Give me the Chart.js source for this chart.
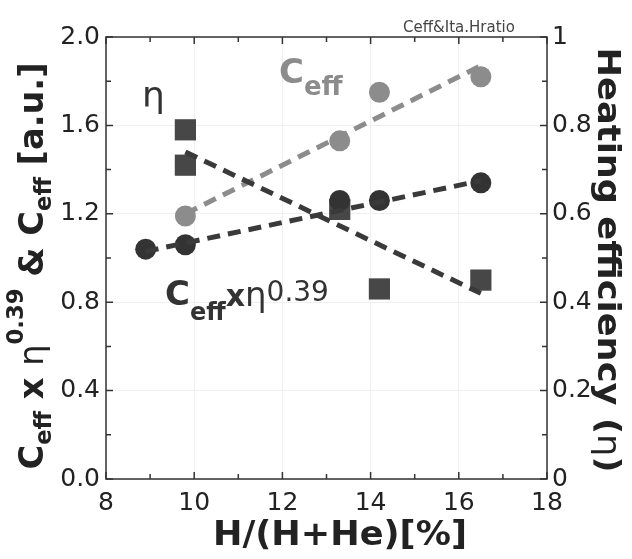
<!DOCTYPE html>
<html>
<head>
<meta charset="utf-8">
<script src="https://cdn.jsdelivr.net/npm/chart.js@4.4.1/dist/chart.umd.min.js"></script>
<style>
  html, body { margin: 0; padding: 0; background: #fff; }
  #box { width: 632px; height: 559px; }
</style>
</head>
<body>
<div id="box"><canvas id="stat1" width="632" height="559"></canvas></div>
<script>
const hRatio = [9.8, 13.3, 14.2, 16.5];
const cEff = [1.19, 1.53, 1.75, 1.82];
const hRatioProd = [8.9, 9.8, 13.3, 14.2, 16.5];
const cEffEta = [1.04, 1.06, 1.26, 1.26, 1.34];
const hRatioEta = [9.8, 9.8, 13.3, 14.2, 16.5];
const eta = [0.79, 0.71, 0.61, 0.43, 0.45];

// dashed fit lines, end points only
const fitX = [9.8, 16.5];
const cEffFit = [1.20, 1.87];
const etaFit = [0.74, 0.42];
const prodFitX = [8.9, 16.5];
const cEffEtaFit = [1.03, 1.35];

const DARK = '#3a3a3a';
const GRAY = '#8c8c8c';
const FONT = "'DejaVu Sans'";

function pts(xs, ys) {
    return xs.map(function (x, i) { return {x: x, y: ys[i]}; });
}

function partsWidth(ctx, parts) {
    let w = 0;
    parts.forEach(function (p) {
        ctx.font = p.font;
        w += ctx.measureText(p.t).width;
    });
    return w;
}

// draws a run of text pieces (for sub/superscripts); centred when length is given
function drawParts(ctx, parts, x0, y0, angle, length) {
    ctx.save();
    ctx.translate(x0, y0);
    ctx.rotate(angle || 0);
    let w = partsWidth(ctx, parts);
    let x = 0;
    if (length) {
        ctx.scale(length / w, 1);
        x = -w / 2;
    }
    ctx.textAlign = 'left';
    ctx.textBaseline = 'alphabetic';
    parts.forEach(function (p) {
        ctx.font = p.font;
        ctx.fillStyle = p.color || '#222';
        ctx.fillText(p.t, x, p.dy || 0);
        x += ctx.measureText(p.t).width;
    });
    ctx.restore();
}

const framePlugin = {
    id: 'frame',
    afterDraw: function (chart) {
        let ctx = chart.ctx;
        let a = chart.chartArea;
        let sx = chart.scales.x, sy = chart.scales.y, sy2 = chart.scales.y2;
        ctx.save();
        ctx.strokeStyle = '#333';
        ctx.lineWidth = 1.5;
        ctx.strokeRect(a.left, a.top, a.right - a.left, a.bottom - a.top);
        ctx.beginPath();
        // inward tick marks on all four sides
        for (let v = 8; v <= 18; v += 1) {
            let px = sx.getPixelForValue(v);
            let len = (v % 2 === 0) ? 7 : 5;
            ctx.moveTo(px, a.bottom); ctx.lineTo(px, a.bottom - len);
            ctx.moveTo(px, a.top); ctx.lineTo(px, a.top + len);
        }
        for (let i = 0; i <= 10; i++) {
            let py = sy.getPixelForValue(i * 0.2);
            let len = (i % 2 === 0) ? 7 : 5;
            ctx.moveTo(a.left, py); ctx.lineTo(a.left + len, py);
        }
        for (let i = 0; i <= 10; i++) {
            let py = sy2.getPixelForValue(i * 0.1);
            let len = (i % 2 === 0) ? 7 : 5;
            ctx.moveTo(a.right, py); ctx.lineTo(a.right - len, py);
        }
        ctx.stroke();
        ctx.restore();

        // axis titles
        drawParts(ctx, [
            {t: 'C', font: 'bold 34px ' + FONT},
            {t: 'eff', font: 'bold 23px ' + FONT, dy: 8},
            {t: ' x ', font: 'bold 34px ' + FONT},
            {t: 'η', font: '34px ' + FONT},
            {t: '0.39', font: 'bold 23px ' + FONT, dy: -20},
            {t: ' & C', font: 'bold 34px ' + FONT},
            {t: 'eff', font: 'bold 23px ' + FONT, dy: 8},
            {t: ' [a.u.]', font: 'bold 34px ' + FONT}
        ], 43, 266, -Math.PI / 2, 407);
        drawParts(ctx, [
            {t: 'Heating efficiency (', font: 'bold 32px ' + FONT},
            {t: 'η', font: '32px ' + FONT},
            {t: ')', font: 'bold 32px ' + FONT}
        ], 598, 260, Math.PI / 2, 425);
        drawParts(ctx, [
            {t: 'H/(H+He)[%]', font: 'bold 33px ' + FONT}
        ], 340, 545, 0, 254);

        // labels inside the plot
        drawParts(ctx, [{t: 'Ceff&Ita.Hratio', font: '15px ' + FONT, color: '#444'}], 403, 32);
        drawParts(ctx, [{t: 'η', font: '36px ' + FONT, color: '#333'}], 142, 107);
        drawParts(ctx, [
            {t: 'C', font: 'bold 34px ' + FONT, color: GRAY},
            {t: 'eff', font: 'bold 26px ' + FONT, color: GRAY, dy: 12}
        ], 279, 83);
        drawParts(ctx, [
            {t: 'C', font: 'bold 34px ' + FONT, color: '#333'},
            {t: 'eff', font: 'bold 24px ' + FONT, color: '#333', dy: 15},
            {t: 'x', font: 'bold 30px ' + FONT, color: '#333', dy: 1},
            {t: 'η', font: '34px ' + FONT, color: '#333', dy: 1},
            {t: '0.39', font: '28px ' + FONT, color: '#333', dy: -4}
        ], 165, 305);
    }
};

function make_chart() {
    let ctx = document.getElementById('stat1').getContext('2d');
    let dashed = {
        showLine: true,
        pointRadius: 0,
        borderWidth: 5,
        borderDash: [13, 8],
        borderCapStyle: 'butt',
        fill: false
    };
    let tickFont = {family: FONT, size: 25};

    new Chart(ctx, {
        type: 'scatter',
        data: {
            datasets: [
                Object.assign({data: pts(fitX, etaFit), yAxisID: 'y2', borderColor: DARK}, dashed),
                Object.assign({data: pts(prodFitX, cEffEtaFit), yAxisID: 'y', borderColor: DARK}, dashed),
                Object.assign({data: pts(fitX, cEffFit), yAxisID: 'y', borderColor: GRAY}, dashed),
                {
                    data: pts(hRatioProd, cEffEta), yAxisID: 'y',
                    pointStyle: 'circle', pointRadius: 10.5,
                    backgroundColor: '#333', borderColor: '#333', borderWidth: 0
                },
                {
                    data: pts(hRatioEta, eta), yAxisID: 'y2',
                    pointStyle: 'rect', pointRadius: 15,
                    backgroundColor: '#474747', borderColor: '#474747', borderWidth: 0
                },
                {
                    data: pts(hRatio, cEff), yAxisID: 'y',
                    pointStyle: 'circle', pointRadius: 10.5,
                    backgroundColor: GRAY, borderColor: GRAY, borderWidth: 0
                }
            ]
        },
        options: {
            responsive: false,
            animation: false,
            layout: {padding: {top: 37, left: 0, right: 0, bottom: 0}},
            plugins: {legend: {display: false}, tooltip: {enabled: false}},
            scales: {
                x: {
                    type: 'linear', position: 'bottom', min: 8, max: 18,
                    ticks: {stepSize: 2, font: tickFont, color: '#222', padding: 9, maxRotation: 0},
                    grid: {color: '#efefef', drawTicks: false},
                    border: {display: false},
                    afterFit: function (s) { s.height = 80; }
                },
                y: {
                    position: 'left', min: 0, max: 2,
                    ticks: {
                        stepSize: 0.4, font: tickFont, color: '#222', padding: 6,
                        callback: function (v) { return v.toFixed(1); }
                    },
                    grid: {color: '#efefef', drawTicks: false},
                    border: {display: false},
                    afterFit: function (s) { s.width = 106; }
                },
                y2: {
                    position: 'right', min: 0, max: 1,
                    ticks: {
                        stepSize: 0.2, font: tickFont, color: '#222', padding: 5,
                        callback: function (v) { return (v === 0 || v === 1) ? String(v) : v.toFixed(1); }
                    },
                    grid: {display: false, drawTicks: false},
                    border: {display: false},
                    afterFit: function (s) { s.width = 85; }
                }
            }
        },
        plugins: [framePlugin]
    });
}

document.addEventListener('DOMContentLoaded', function () {
    make_chart();
});
</script>
</body>
</html>
